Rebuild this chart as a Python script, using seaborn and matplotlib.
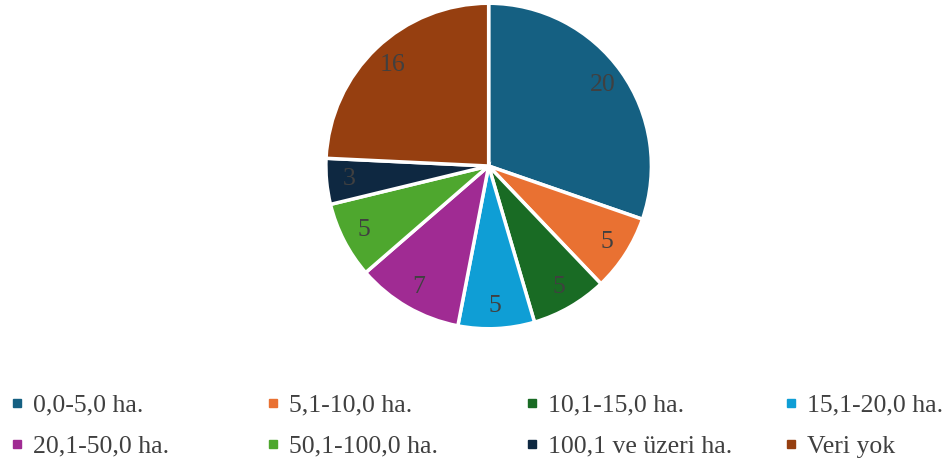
import matplotlib
matplotlib.use("Agg")
import matplotlib.pyplot as plt
from matplotlib.lines import Line2D
import seaborn as sns

# Data
categories = ["0,0-5,0 ha.", "5,1-10,0 ha.", "10,1-15,0 ha.", "15,1-20,0 ha.",
              "20,1-50,0 ha.", "50,1-100,0 ha.", "100,1 ve üzeri ha.", "Veri yok"]
counts = [20, 5, 5, 5, 7, 5, 3, 16]
hex_colors = ["#156082", "#E97132", "#196B24", "#0F9ED5",
              "#A02B93", "#4EA72E", "#0E2841", "#963F10"]

sns.set_theme(style="white")
plt.rcParams["font.family"] = ["Liberation Serif", "DejaVu Serif"]

palette = sns.color_palette(hex_colors)
text_color = "#404040"
total = sum(counts)
fs = 18.5

fig = plt.figure(figsize=(9.47, 4.65), dpi=100)
ax = fig.add_axes([0.516 - 0.171, 0.643 - 0.3485, 0.342, 0.697])

wedges, texts, autotexts = ax.pie(
    counts,
    colors=palette,
    startangle=90,
    counterclock=False,
    autopct=lambda p: f"{round(p * total / 100)}",
    pctdistance=0.86,
    wedgeprops=dict(edgecolor="white", linewidth=2.5),
    textprops=dict(color=text_color, fontsize=fs),
)
ax.set_xlim(-0.995, 0.995)
ax.set_ylim(-0.995, 0.995)
ax.set_aspect("equal")

# Legend: 4 columns, 2 rows (one legend per column for even spacing)
col_x = [10.6, 266.6, 525.6, 784.6]
for c in range(4):
    idx = [c, c + 4]
    handles = [Line2D([], [], linestyle="none", marker="s", markersize=6,
                      markerfacecolor=palette[i], markeredgecolor=palette[i])
               for i in idx]
    fig.legend(handles, [categories[i] for i in idx],
               loc="center left", bbox_to_anchor=(col_x[c] / 947, 0.084),
               frameon=False, fontsize=fs, labelcolor=text_color,
               handlelength=0.5, handletextpad=0.37, borderpad=0,
               borderaxespad=0, labelspacing=0.7)

plt.savefig("out.png", dpi=100)
plt.close()
